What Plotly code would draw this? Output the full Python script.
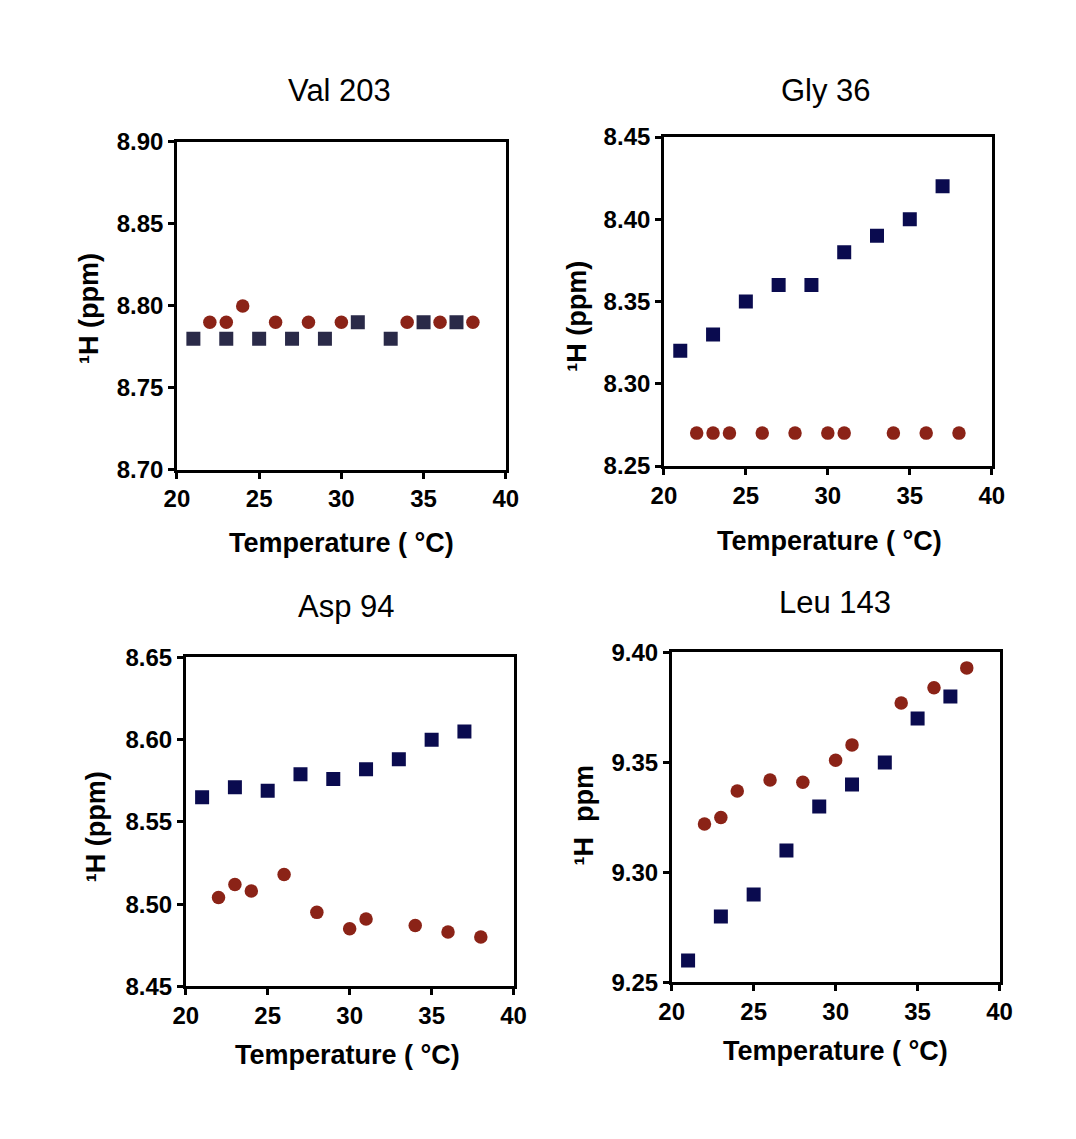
import plotly.graph_objects as go

W, H = 1076, 1139

# ---------------- data ----------------
titles = ["Val 203", "Gly 36", "Asp 94", "Leu 143"]

val_sq_x = [21, 23, 25, 27, 29, 31, 33, 35, 37]
val_sq_y = [8.78, 8.78, 8.78, 8.78, 8.78, 8.79, 8.78, 8.79, 8.79]
val_ci_x = [22, 23, 24, 26, 28, 30, 34, 36, 38]
val_ci_y = [8.79, 8.79, 8.80, 8.79, 8.79, 8.79, 8.79, 8.79, 8.79]

gly_sq_x = [21, 23, 25, 27, 29, 31, 33, 35, 37]
gly_sq_y = [8.32, 8.33, 8.35, 8.36, 8.36, 8.38, 8.39, 8.40, 8.42]
gly_ci_x = [22, 23, 24, 26, 28, 30, 31, 34, 36, 38]
gly_ci_y = [8.27, 8.27, 8.27, 8.27, 8.27, 8.27, 8.27, 8.27, 8.27, 8.27]

asp_sq_x = [21, 23, 25, 27, 29, 31, 33, 35, 37]
asp_sq_y = [8.565, 8.571, 8.569, 8.579, 8.576, 8.582, 8.588, 8.600, 8.605]
asp_ci_x = [22, 23, 24, 26, 28, 30, 31, 34, 36, 38]
asp_ci_y = [8.504, 8.512, 8.508, 8.518, 8.495, 8.485, 8.491, 8.487, 8.483, 8.480]

leu_sq_x = [21, 23, 25, 27, 29, 31, 33, 35, 37]
leu_sq_y = [9.26, 9.28, 9.29, 9.31, 9.33, 9.34, 9.35, 9.37, 9.38]
leu_ci_x = [22, 23, 24, 26, 28, 30, 31, 34, 36, 38]
leu_ci_y = [9.322, 9.325, 9.337, 9.342, 9.341, 9.351, 9.358, 9.377, 9.384, 9.393]

x_ticks = [20, 25, 30, 35, 40]
y_ranges = [(8.70, 8.90), (8.25, 8.45), (8.45, 8.65), (9.25, 9.40)]
y_ticks = [
    [8.70, 8.75, 8.80, 8.85, 8.90],
    [8.25, 8.30, 8.35, 8.40, 8.45],
    [8.45, 8.50, 8.55, 8.60, 8.65],
    [9.25, 9.30, 9.35, 9.40],
]
x_titles = ["Temperature ( °C)", "Temperature ( °C)",
            "Temperature ( °C)", "Temperature ( °C)"]
y_titles = ["¹H (ppm)", "¹H (ppm)", "¹H (ppm)", "¹H  ppm"]

series = [
    (val_sq_x, val_sq_y, val_ci_x, val_ci_y),
    (gly_sq_x, gly_sq_y, gly_ci_x, gly_ci_y),
    (asp_sq_x, asp_sq_y, asp_ci_x, asp_ci_y),
    (leu_sq_x, leu_sq_y, leu_ci_x, leu_ci_y),
]

# ---------------- layout (pixel boxes) ----------------
boxes = [  # left, right, top, bottom in pixels
    (168, 505, 131, 467),
    (667, 1003, 126, 463),
    (177, 513, 659, 996),
    (675, 1011, 654, 992),
]
title_pos = [(335, 78), (833, 78), (342, 607), (842, 603)]
xt_pos = [(337, 542), (837, 540), (343, 1066), (843, 1062)]
yt_pos = [(78, 302), (578, 310), (85, 832), (585, 820)]

sq_colors = ["#2a2a48", "#0a0b4f", "#0a0b4f", "#0a0b4f"]
ci_color = "#8b2317"

FONT = "Liberation Sans, Arial, sans-serif"

fig = go.Figure()
layout = dict(
    width=W, height=H, showlegend=False,
    paper_bgcolor="white", plot_bgcolor="white",
    margin=dict(l=0, r=0, t=0, b=0),
    font=dict(family=FONT, color="black"),
)
annotations = []

for i in range(4):
    sx, sy, cx, cy = series[i]
    xa = "x" if i == 0 else f"x{i+1}"
    ya = "y" if i == 0 else f"y{i+1}"
    fig.add_trace(go.Scatter(x=sx, y=sy, mode="markers", xaxis=xa, yaxis=ya,
                             marker=dict(symbol="square", size=14, color=sq_colors[i],
                                         line=dict(width=0))))
    fig.add_trace(go.Scatter(x=cx, y=cy, mode="markers", xaxis=xa, yaxis=ya,
                             marker=dict(symbol="circle", size=13.5, color=ci_color,
                                         line=dict(width=0))))
    l, r, t, b = boxes[i]
    xkey = "xaxis" if i == 0 else f"xaxis{i+1}"
    ykey = "yaxis" if i == 0 else f"yaxis{i+1}"
    layout[xkey] = dict(
        domain=[l / W, r / W], anchor=ya, range=[20, 40],
        tickvals=x_ticks, ticktext=[str(v) for v in x_ticks],
        showline=True, linecolor="black", linewidth=2.5, mirror=True,
        ticks="outside", ticklen=6, tickwidth=2.5, tickcolor="black",
        showgrid=False, zeroline=False,
        tickfont=dict(family=FONT, size=24, color="black", weight="bold"),
    )
    y0, y1 = y_ranges[i]
    layout[ykey] = dict(
        domain=[1 - b / H, 1 - t / H], anchor=xa, range=[y0, y1],
        tickvals=y_ticks[i], ticktext=[f"{v:.2f}" for v in y_ticks[i]],
        showline=True, linecolor="black", linewidth=2.5, mirror=True,
        ticks="outside", ticklen=6, tickwidth=2.5, tickcolor="black",
        showgrid=False, zeroline=False,
        tickfont=dict(family=FONT, size=24, color="black", weight="bold"),
    )
    # panel title
    annotations.append(dict(text=titles[i], x=title_pos[i][0] / W, y=1 - title_pos[i][1] / H,
                            xref="paper", yref="paper", showarrow=False,
                            xanchor="center", yanchor="middle",
                            font=dict(family=FONT, size=31, color="black")))
    # x-axis title
    annotations.append(dict(text=x_titles[i], x=xt_pos[i][0] / W, y=1 - xt_pos[i][1] / H,
                            xref="paper", yref="paper", showarrow=False,
                            xanchor="center", yanchor="middle",
                            font=dict(family=FONT, size=27, color="black", weight="bold")))
    # y-axis title
    annotations.append(dict(text=y_titles[i], x=yt_pos[i][0] / W, y=1 - yt_pos[i][1] / H,
                            xref="paper", yref="paper", showarrow=False, textangle=-90,
                            xanchor="center", yanchor="middle",
                            font=dict(family=FONT, size=27, color="black", weight="bold")))

layout["annotations"] = annotations
fig.update_layout(**layout)
fig.write_html("out.html")
